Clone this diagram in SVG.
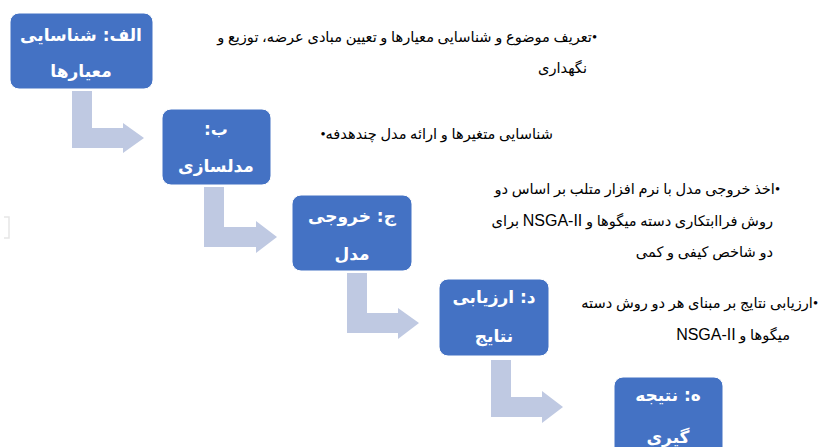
<svg xmlns="http://www.w3.org/2000/svg" width="835" height="447" viewBox="0 0 835 447">
<style>
.box{fill:#4472C4;stroke:#ffffff;stroke-width:1}
.bt{font-family:"DejaVu Sans","Noto Sans",sans-serif;font-size:17px;font-weight:bold;fill:#ffffff;text-anchor:middle}
.arr{fill:#BFC9E2}
.st{font-family:"Liberation Serif","DejaVu Sans",serif;font-size:14.6px;fill:#000000;direction:rtl;unicode-bidi:embed;text-anchor:start}
.lat{font-family:"Liberation Sans",sans-serif;font-size:16px}
</style>
<rect width="835" height="447" fill="#ffffff"/>
<path d="M4,217 H9 V238 H4" fill="none" stroke="#e6e6e6" stroke-width="1.5"/>
<g id="connectors">
<path class="arr" d="M72,91 H92 V128 H123 V123 L144,138 L123,153 V148 H72 Z"/>
<path class="arr" d="M204,187 H224 V227 H256 V221 L277,237 L256,253 V247 H204 Z"/>
<path class="arr" d="M347,273 H367 V313 H398 V308 L419,323 L398,339 V333 H347 Z"/>
<path class="arr" d="M491,360 H511 V397 H542 V391 L563,407 L542,423 V417 H491 Z"/>
</g>
<g id="node-a">
<rect class="box" x="10" y="13" width="143" height="76" rx="9"/>
<text class="bt" x="81" y="41" direction="rtl">الف: شناسایی</text>
<text class="bt" x="81" y="77">معیارها</text>
</g>
<g id="node-b">
<rect class="box" x="162" y="109" width="109" height="76" rx="9"/>
<text class="bt" x="216" y="135" direction="rtl">ب:</text>
<text class="bt" x="216" y="172">مدلسازی</text>
</g>
<g id="node-c">
<rect class="box" x="292" y="195" width="120" height="76" rx="9"/>
<text class="bt" x="352" y="222" direction="rtl">ج: خروجی</text>
<text class="bt" x="352" y="260">مدل</text>
</g>
<g id="node-d">
<rect class="box" x="439" y="279" width="110" height="77" rx="9"/>
<text class="bt" x="494" y="303" direction="rtl">د: ارزیابی</text>
<text class="bt" x="494" y="342">نتایج</text>
</g>
<g id="node-e">
<rect class="box" x="614" y="377" width="109" height="82" rx="9"/>
<text class="bt" x="668" y="401" direction="rtl">ه: نتیجه</text>
<text class="bt" x="668" y="443">گیری</text>
</g>
<g id="notes">
<text class="st" x="597" y="42">•تعریف موضوع و شناسایی معیارها و تعیین مبادی عرضه، توزیع و</text>
<text class="st" x="587" y="73">نگهداری</text>
<text class="st" x="553" y="139">شناسایی متغیرها و ارائه مدل چندهدفه•</text>
<text class="st" x="780" y="194">•اخذ خروجی مدل با نرم افزار متلب بر اساس دو</text>
<text class="st" x="773" y="226">روش فراابتکاری دسته میگوها و  <tspan class="lat">NSGA-II</tspan> برای</text>
<text class="st" x="773" y="257">دو شاخص کیفی و کمی</text>
<text class="st" x="818" y="308">•ارزیابی نتایج بر مبنای هر دو روش دسته</text>
<text class="st" x="790" y="340">میگوها و  <tspan class="lat">NSGA-II</tspan></text>
</g>
</svg>
